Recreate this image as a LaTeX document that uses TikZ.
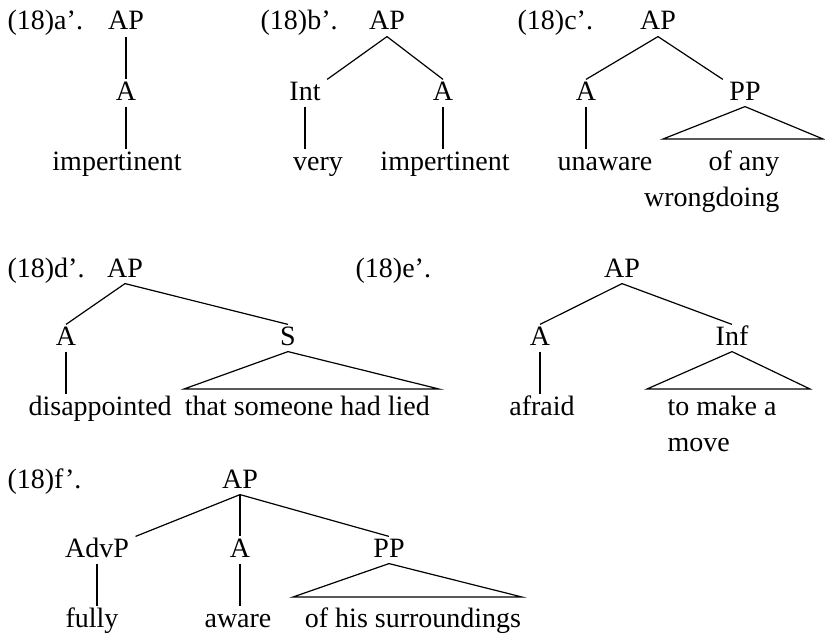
\documentclass[tikz,border=0pt]{standalone}
\usepackage{fontspec}
\setmainfont{Liberation Serif}
\usetikzlibrary{positioning}

\begin{document}
\begin{tikzpicture}[x=0.5pt, y=-0.5pt, line width=0.6pt,
    every node/.style={font=\fontsize{14}{18}\selectfont},
    cat/.style={inner sep=3pt, text height=0.7em, text depth=0pt, anchor=base},
    ex/.style={inner sep=0pt, anchor=base west}]
    \useasboundingbox (0,0) rectangle (825,637);

    \node[ex] (exa) at (7,30)   {(18)a'.};
    \node[ex] (exb) at (260,30) {(18)b'.};
    \node[ex] (exc) at (517,30) {(18)c'.};
    \node[ex] (exd) at (7,277)  {(18)d'.};
    \node[ex] (exe) at (355,277){(18)e'.};
    \node[ex] (exf) at (7,488)  {(18)f'.};

    \node[cat] (ap1)   at (126,30)  {AP};
    \node[cat] (a1)    at (126,100) {A};
    \node[cat] (imp1)  at (117,170) {impertinent};

    \node[cat] (ap2)   at (387,30)  {AP};
    \node[cat] (int2)  at (305,100) {Int};
    \node[cat] (a2)    at (443,100) {A};
    \node[cat] (very2) at (318,170) {very};
    \node[cat] (imp2)  at (445,170) {impertinent};

    \node[cat] (ap3)   at (658,30)  {AP};
    \node[cat] (a3)    at (586,100) {A};
    \node[cat] (pp3)   at (745,100) {PP};
    \node[cat] (unaw3) at (605,170) {unaware};
    \node[anchor=base east, inner sep=3pt, align=right] (any3) at (786,206) {of any\\wrongdoing};
    \coordinate (pp3l) at (663,139);
    \coordinate (pp3r) at (823,139);

    \node[cat] (ap4)   at (125,277) {AP};
    \node[cat] (a4)    at (66,345)  {A};
    \node[cat] (s4)    at (288,345) {S};
    \node[cat, anchor=base west] (dis4) at (22,415) {disappointed};
    \node[cat, base right=0pt of dis4] (lied4) {that someone had lied};
    \coordinate (s4l) at (184,389);
    \coordinate (s4r) at (439,389);

    \node[cat] (ap5)   at (622,277) {AP};
    \node[cat] (a5)    at (540,345) {A};
    \node[cat] (inf5)  at (732,345) {Inf};
    \node[cat] (afr5)  at (542,415) {afraid};
    \node[anchor=base west, inner sep=3pt, align=left] (move5) at (661,451) {to make a\\move};
    \coordinate (inf5l) at (647,389);
    \coordinate (inf5r) at (810,389);

    \node[cat] (ap6)   at (240,488) {AP};
    \node[cat] (adv6)  at (97,557)  {AdvP};
    \node[cat] (a6)    at (240,557) {A};
    \node[cat] (pp6)   at (389,557) {PP};
    \node[cat] (ful6)  at (92,627)  {fully};
    \node[cat] (aw6)   at (238,627) {aware};
    \node[cat] (sur6)  at (413,627) {of his surroundings};
    \coordinate (pp6l) at (293,597);
    \coordinate (pp6r) at (522,597);

    \path
        (ap1.south) edge (a1.north)
        (a1.south)  edge (a1.south |- imp1.north)
        (ap2.south)
            edge (int2.north east)
            edge (a2.north)
        (int2.south) edge (int2.south |- very2.north)
        (a2.south)   edge (a2.south |- imp2.north)
        (ap3.south)
            edge (a3.north)
            edge (pp3.north west)
        (a3.south) edge (a3.south |- unaw3.north)
        (ap4.south)
            edge (a4.north)
            edge (s4.north)
        (a4.south) edge (a4.south |- dis4.north)
        (ap5.south)
            edge (a5.north)
            edge (inf5.north)
        (a5.south) edge (a5.south |- afr5.north)
        (ap6.south)
            edge (adv6.north east)
            edge (a6.north)
            edge (pp6.north)
        (adv6.south) edge (adv6.south |- ful6.north)
        (a6.south)   edge (a6.south |- aw6.north)
       ;
    \draw (pp3.south) -- (pp3l) -- (pp3r) -- cycle;
    \draw (s4.south) -- (s4l) -- (s4r) -- cycle;
    \draw (inf5.south) -- (inf5l) -- (inf5r) -- cycle;
    \draw (pp6.south) -- (pp6l) -- (pp6r) -- cycle;
\end{tikzpicture}
\end{document}
